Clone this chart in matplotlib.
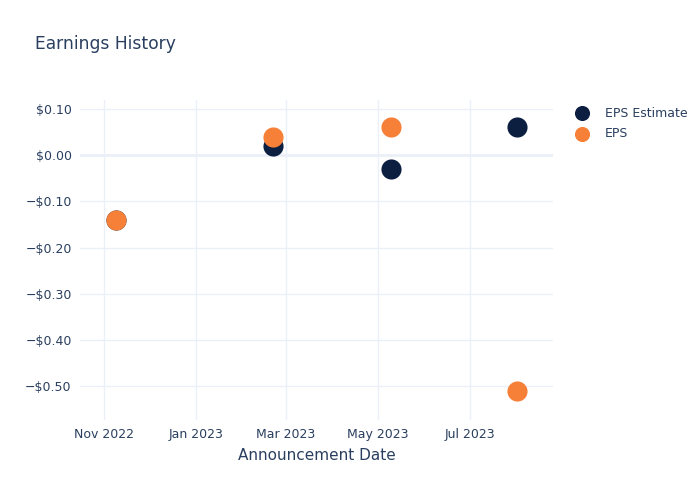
import matplotlib.pyplot as plt
import matplotlib.dates as mdates
import matplotlib.ticker as mticker
import pandas as pd

# data
dates = pd.to_datetime(["2022-11-09", "2023-02-21", "2023-05-10", "2023-08-01"])
eps_estimate = [-0.14, 0.02, -0.03, 0.06]
eps_actual = [-0.14, 0.04, 0.06, -0.51]

text_color = "#2a3f5f"
grid_color = "#ebf0f8"

fig = plt.figure(figsize=(7, 5), dpi=100)
ax = fig.add_axes([80 / 700, 80 / 500, 473 / 700, 320 / 500])

ax.scatter(dates, eps_estimate, s=210, color="#0c1f41", label="EPS Estimate", zorder=3, linewidths=0)
ax.scatter(dates, eps_actual, s=210, color="#f68038", label="EPS", zorder=4, linewidths=0)

ax.set_xlim(pd.Timestamp("2022-10-16"), pd.Timestamp("2023-08-25"))
ax.set_ylim(-0.5736, 0.1195)

ax.xaxis.set_major_locator(mdates.MonthLocator(bymonth=[1, 3, 5, 7, 11]))
ax.xaxis.set_major_formatter(mdates.DateFormatter("%b %Y"))
ax.yaxis.set_major_locator(mticker.MultipleLocator(0.1))


def money(v, pos):
    if abs(v) < 1e-9:
        return "$0.00"
    s = "${:.2f}".format(abs(v))
    return ("\u2212" + s) if v < 0 else s


ax.yaxis.set_major_formatter(mticker.FuncFormatter(money))

ax.grid(True, color=grid_color, linewidth=1)
ax.axhline(0, color=grid_color, linewidth=2, zorder=1)
ax.set_axisbelow(True)
for sp in ax.spines.values():
    sp.set_visible(False)
ax.tick_params(length=0, labelsize=9, colors=text_color, pad=6)

ax.set_xlabel("Announcement Date", fontsize=11, color=text_color, labelpad=5)
fig.text(35 / 700, 1 - 44 / 500, "Earnings History", fontsize=12.3, color=text_color, va="center")

ax.legend(loc="upper left", bbox_to_anchor=(1.025, 0.995), frameon=False,
          fontsize=9, labelcolor=text_color, handletextpad=0.8, labelspacing=0.6,
          markerscale=0.75, borderaxespad=0)

plt.savefig("out.png", dpi=100)
